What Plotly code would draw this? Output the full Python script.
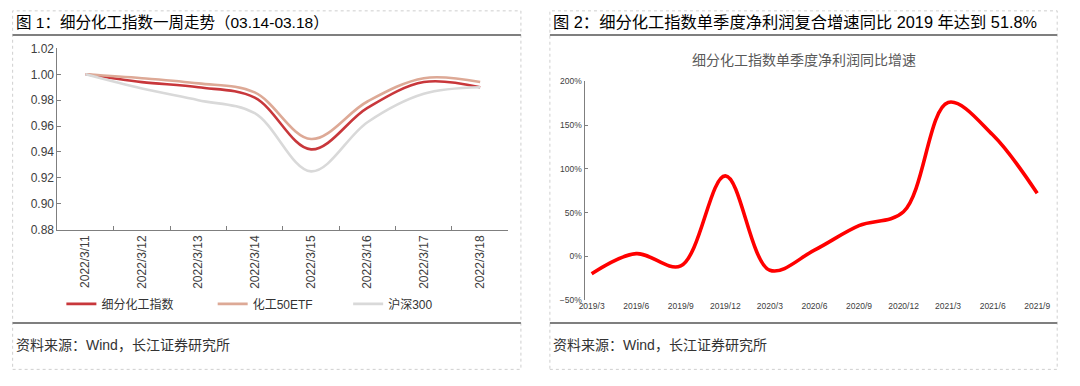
import plotly.graph_objects as go

W, H = 1080, 386

# ---------- data ----------
dates = ["2022/3/11", "2022/3/12", "2022/3/13", "2022/3/14",
         "2022/3/15", "2022/3/16", "2022/3/17", "2022/3/18"]
chem_index = [1.000, 0.994, 0.990, 0.982, 0.942, 0.974, 0.994, 0.990]
chem_etf = [1.000, 0.997, 0.993, 0.986, 0.950, 0.979, 0.997, 0.994]
hs300 = [1.000, 0.989, 0.980, 0.970, 0.925, 0.963, 0.985, 0.990]

quarters = ["2019/3", "2019/6", "2019/9", "2019/12", "2020/3", "2020/6",
            "2020/9", "2020/12", "2021/3", "2021/6", "2021/9"]
profit_yoy = [-20, 3, -11, 92, -16, 7, 35, 51, 176, 139, 72]

FONT = "Liberation Sans, Noto Sans CJK SC, sans-serif"

def px_x(v):
    return v / W

def px_y(v):
    return 1 - v / H

fig = go.Figure()

# ---------- left chart ----------
fig.add_trace(go.Scatter(x=dates, y=chem_index, name="细分化工指数", mode="lines",
                         line=dict(color="#C8373B", width=2.6, shape="spline"),
                         xaxis="x", yaxis="y", legend="legend"))
fig.add_trace(go.Scatter(x=dates, y=chem_etf, name="化工50ETF", mode="lines",
                         line=dict(color="#DDA996", width=2.6, shape="spline"),
                         xaxis="x", yaxis="y", legend="legend2"))
fig.add_trace(go.Scatter(x=dates, y=hs300, name="沪深300", mode="lines",
                         line=dict(color="#D9D9D9", width=2.6, shape="spline"),
                         xaxis="x", yaxis="y", legend="legend3"))

# ---------- right chart ----------
fig.add_trace(go.Scatter(x=list(range(len(quarters))), y=profit_yoy, mode="lines",
                         line=dict(color="#FF0000", width=3.6, shape="spline"),
                         showlegend=False, xaxis="x2", yaxis="y2"))

axis_font = dict(family=FONT, size=12, color="#404040")
small_font = dict(family=FONT, size=8.5, color="#404040")

def legend_at(xpx):
    return dict(orientation="h", x=px_x(xpx), y=px_y(308), xanchor="left",
                yanchor="middle", font=dict(family=FONT, size=12, color="#333333"),
                bgcolor="rgba(0,0,0,0)")

fig.update_layout(
    width=W, height=H,
    margin=dict(l=0, r=0, t=0, b=0),
    paper_bgcolor="white", plot_bgcolor="white",
    font=dict(family=FONT, color="#333333"),
    xaxis=dict(domain=[px_x(52), px_x(508)], type="category", range=[-0.5, 7.5],
               showline=True, linecolor="#7F7F7F", linewidth=1,
               ticks="inside", tickson="boundaries", ticklen=4, tickcolor="#7F7F7F",
               tickangle=-90, tickfont=axis_font, showgrid=False, anchor="y"),
    yaxis=dict(domain=[px_y(231), px_y(43)], range=[0.88, 1.02], dtick=0.02,
               tickformat=".2f", showline=True, linecolor="#7F7F7F", linewidth=1,
               ticks="inside", ticklen=4, tickcolor="#7F7F7F",
               showgrid=False, zeroline=False, tickfont=axis_font, anchor="x"),
    xaxis2=dict(domain=[px_x(585), px_x(1050)], range=[-0.16, 10.16],
                tickvals=list(range(len(quarters))), ticktext=quarters,
                showline=False, ticks="", showgrid=False, zeroline=False,
                tickfont=small_font, anchor="y2"),
    xaxis3=dict(overlaying="x2", range=[-0.16, 10.16], anchor="free",
                position=px_y(258.3), showline=True, linecolor="#7F7F7F", linewidth=1,
                ticks="inside", ticklen=3, tickcolor="#7F7F7F",
                tickvals=[i - 0.18 for i in range(1, len(quarters))],
                showticklabels=False, showgrid=False, zeroline=False),
    yaxis2=dict(domain=[px_y(304), px_y(77.3)], range=[-50, 200], dtick=50,
                ticksuffix="%", showline=True, linecolor="#7F7F7F", linewidth=1,
                ticks="inside", ticklen=3, tickcolor="#7F7F7F",
                showgrid=False, zeroline=False, tickfont=small_font, anchor="x2"),
    legend=legend_at(56),
    legend2=legend_at(209),
    legend3=legend_at(346),
)

# ---------- decorations ----------
shapes = []
border = dict(color="#CFCFCF", width=1, dash="dot")
for x0, x1 in [(6.7, 520.7), (550, 1063)]:
    shapes.append(dict(type="rect", xref="paper", yref="paper",
                       x0=px_x(x0), x1=px_x(x1), y0=px_y(376), y1=px_y(4),
                       line=border, fillcolor="rgba(0,0,0,0)", layer="below"))
    for yy in (29, 328):
        shapes.append(dict(type="line", xref="paper", yref="paper",
                           x0=px_x(x0), x1=px_x(x1), y0=px_y(yy), y1=px_y(yy),
                           line=dict(color="#7F7F7F", width=2)))
fig.update_layout(shapes=shapes)

ann = []
ann.append(dict(text="图 1：细分化工指数一周走势（03.14-03.18）", x=px_x(8), y=px_y(16),
                xref="paper", yref="paper", xanchor="left", yanchor="middle",
                showarrow=False, font=dict(family=FONT, size=15.5, color="#000000")))
ann.append(dict(text="图 2：细分化工指数单季度净利润复合增速同比 2019 年达到 51.8%",
                x=px_x(551), y=px_y(16), xref="paper", yref="paper",
                xanchor="left", yanchor="middle", showarrow=False,
                font=dict(family=FONT, size=16.3, color="#000000")))
ann.append(dict(text="细分化工指数单季度净利润同比增速", x=px_x(807), y=px_y(55),
                xref="paper", yref="paper", xanchor="center", yanchor="middle",
                showarrow=False, font=dict(family=FONT, size=14, color="#595959")))
for xs in (8, 551):
    ann.append(dict(text="资料来源：Wind，长江证券研究所", x=px_x(xs), y=px_y(351),
                    xref="paper", yref="paper", xanchor="left", yanchor="middle",
                    showarrow=False, font=dict(family=FONT, size=14, color="#333333")))
fig.update_layout(annotations=ann)

fig.write_html("out.html",
               config={"displayModeBar": False},
               post_script="document.body.style.margin='0px';"
                           "document.body.style.overflow='hidden';")
